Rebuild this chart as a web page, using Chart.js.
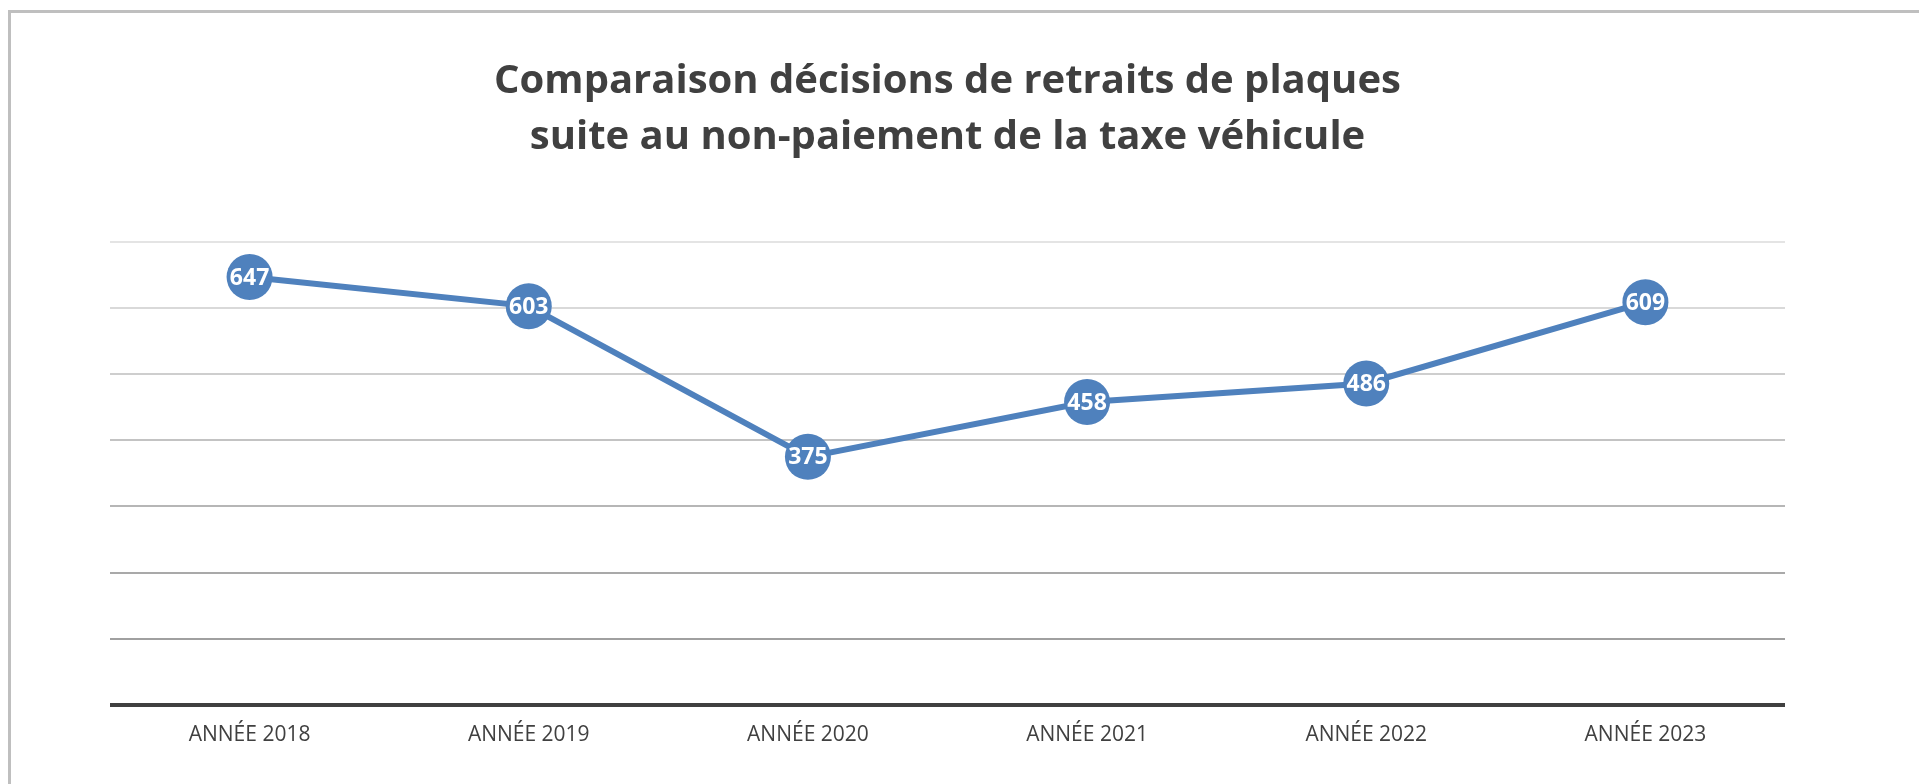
<!DOCTYPE html>
<html lang="fr">
<head>
<meta charset="utf-8">
<title>Retraits de plaques</title>
<script src="https://cdn.jsdelivr.net/npm/chart.js@4/dist/chart.umd.min.js"></script>
<style>
  html, body { margin: 0; padding: 0; background: #ffffff; }
  #frame {
    position: absolute; left: 8px; top: 10px; right: 0; bottom: 0;
    border-top: 3px solid #bfbfbf; border-left: 3px solid #bfbfbf;
    pointer-events: none;
  }
  #wrap { position: absolute; left: 0; top: 0; width: 1919px; height: 784px; }
</style>
</head>
<body>
<div id="frame"></div>
<div id="wrap"><canvas id="chart" width="1919" height="784"></canvas></div>
<script>
// Années et nombre de décisions de retrait de plaques
const categories = ["ANNÉE 2018", "ANNÉE 2019", "ANNÉE 2020", "ANNÉE 2021", "ANNÉE 2022", "ANNÉE 2023"];
const decisions = [647, 603, 375, 458, 486, 609];
const titleLines = ["Comparaison décisions de retraits de plaques", "suite au non-paiement de la taxe véhicule"];
const yTicks = [0, 100, 200, 300, 400, 500, 600, 700];

const BLUE = "#4f81bd";
const TEXT = "#404040";
// Lignes de quadrillage : plus foncées en bas, plus claires en haut
const gridColors = ["#404040", "#a0a0a0", "#a9a9a9", "#b6b6b6", "#c3c3c3", "#cecece", "#d9d9d9", "#e4e4e4"];

// Valeurs écrites en blanc au centre de chaque marqueur
const pointValueLabels = {
  id: "pointValueLabels",
  afterDatasetsDraw(chart) {
    const ctx = chart.ctx;
    chart.data.datasets.forEach((ds, i) => {
      const meta = chart.getDatasetMeta(i);
      meta.data.forEach((pt, j) => {
        ctx.save();
        ctx.font = "bold 23px 'Open Sans'";
        ctx.fillStyle = "#ffffff";
        ctx.textAlign = "center";
        ctx.textBaseline = "middle";
        ctx.fillText(String(ds.data[j]), pt.x, pt.y + 1);
        ctx.restore();
      });
    });
  }
};

new Chart(document.getElementById("chart"), {
  type: "line",
  data: {
    labels: categories,
    datasets: [{
      data: decisions,
      borderColor: BLUE,
      borderWidth: 6,
      backgroundColor: BLUE,
      pointBackgroundColor: BLUE,
      pointBorderWidth: 0,
      pointRadius: 23,
      pointHoverRadius: 23,
      tension: 0,
      clip: false
    }]
  },
  options: {
    responsive: false,
    animation: false,
    events: [],
    layout: { padding: { left: 110, right: 134, top: 0, bottom: 18 } },
    plugins: {
      legend: { display: false },
      tooltip: { enabled: false },
      title: {
        display: true,
        text: titleLines,
        color: TEXT,
        font: { family: "'Open Sans'", size: 40, weight: "bold", lineHeight: 1.4 },
        padding: { top: 54, bottom: 76 }
      }
    },
    scales: {
      x: {
        offset: true,
        grid: { display: false, drawTicks: false },
        border: { display: false },
        ticks: {
          color: TEXT,
          padding: 18,
          maxRotation: 0,
          font: { family: "'Open Sans'", size: 21 }
        }
      },
      y: {
        min: yTicks[0],
        max: yTicks[yTicks.length - 1],
        afterBuildTicks(scale) { scale.ticks = yTicks.map(v => ({ value: v })); },
        afterFit(scale) { scale.width = 0; },
        border: { display: false },
        ticks: { display: false },
        grid: {
          drawTicks: false,
          color: (c) => gridColors[c.index] || "#d0d0d0",
          lineWidth: (c) => (c.index === 0 ? 4 : 2)
        }
      }
    }
  },
  plugins: [pointValueLabels]
});
</script>
</body>
</html>
